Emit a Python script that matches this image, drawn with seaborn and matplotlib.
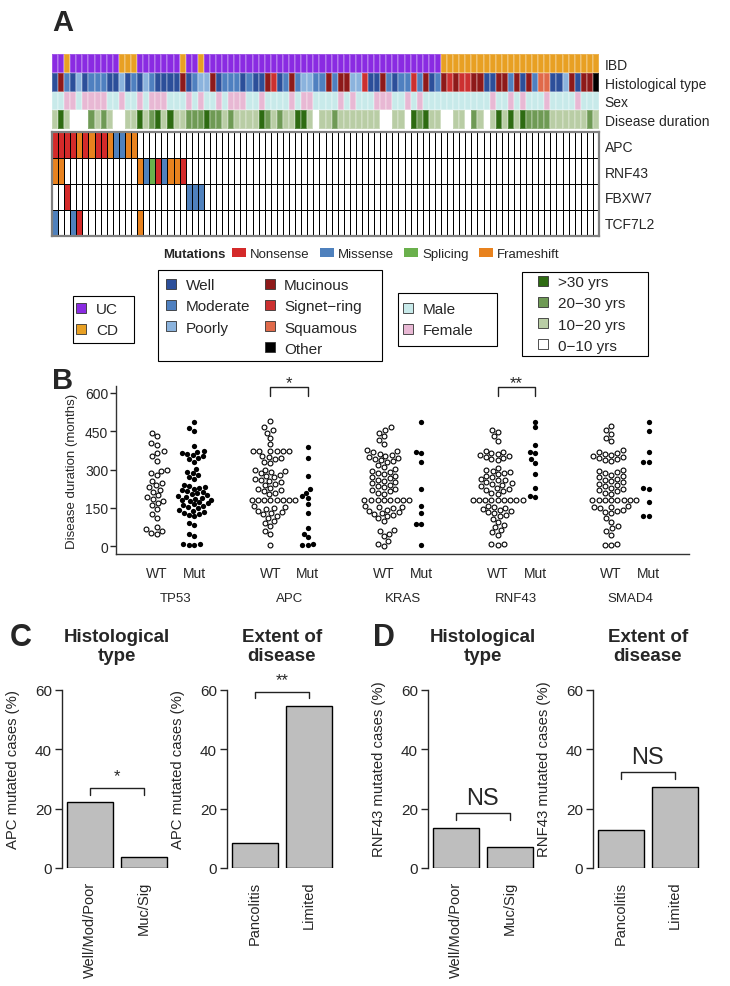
import matplotlib
matplotlib.use("Agg")
import matplotlib.pyplot as plt
from matplotlib.colors import ListedColormap
from matplotlib.lines import Line2D
from matplotlib.patches import Patch, Rectangle
import pandas as pd
import seaborn as sns

# ---------------- panel A data (one character per patient, 90 patients) ----------------
ibd = "UUCUUUUUUU UCCCUUUUUU UCUUCUUUUU UUUUUUUUUU UUUUUUUUUU UUUUUUUUUU UUUUCCCCCC CCCCCCCCCC CCCCCCCCCC"
histology = "WUMWPWMMMW WPWMWPMWWW WUWMPPUWMM MWMWWUSWMU MPPMMUMUUP PSWWUMWMMS MUWMUSUSSU UWWUUMUWUM QQWWPUWUUO"
sex = "MMFFMFFFFM MFMMFMFFFM MMFMFMMFMF FFMMFMMMMF MFFMMMMFMF MMMFFFMMFM FMMMMMMMMM MMFMMFMFMM MFMMMMFMMM"
duration = "LDLNNNGLGL NNLLDLGDLD LLGGGDGGLG LLLLDGLGLL DDLNLLGLLL LLLLNNLLND GDLLNNLLNG LNLDLDLDGG GGLLLLLLGL"
track_names = ["IBD", "Histological type", "Sex", "Disease duration"]

ibd_codes, ibd_labels = "UC", ["UC", "CD"]
ibd_colors = ["#8a2be2", "#e8a023"]
hist_codes = "WMPUSQO"
hist_labels = ["Well", "Moderate", "Poorly", "Mucinous", "Signet\u2212ring", "Squamous", "Other"]
hist_colors = ["#2c4f9a", "#4f80c0", "#8bb3dd", "#8e1a1a", "#cc3030", "#e06a4a", "#000000"]
sex_codes, sex_labels = "MF", ["Male", "Female"]
sex_colors = ["#c8eaea", "#e8b8d4"]
dur_codes = "DGLN"
dur_labels = [">30 yrs", "20\u221230 yrs", "10\u221220 yrs", "0\u221210 yrs"]
dur_colors = ["#2e6b12", "#6f9a55", "#b9cda5", "#ffffff"]

mut_genes = ["APC", "RNF43", "FBXW7", "TCF7L2"]
mut_apc = "NNNNFNFNNF MMFF...... .......... .......... .......... .......... .......... .......... .........."
mut_rnf43 = "FF........ ....FMSNMF FN........ .......... .......... .......... .......... .......... .........."
mut_fbxw7 = "..N....... .......... ..MMM..... .......... .......... .......... .......... .......... .........."
mut_tcf7l2 = "M..MN..... ....F..... .......... .......... .......... .......... .......... .......... .........."
mut_codes = ".NMSF"
mut_labels = ["Nonsense", "Missense", "Splicing", "Frameshift"]
mut_colors = ["#ffffff", "#d42a2a", "#4f81bd", "#6ab04c", "#e8821e"]

# ---------------- panel B data (disease duration, months) ----------------
genes_b = ["TP53", "APC", "KRAS", "RNF43", "SMAD4"]
tp53_wt = [445, 432, 405, 398, 372, 366, 352, 335, 300, 295, 288, 278, 256, 246, 240, 232, 222,
           212, 200, 193, 186, 178, 170, 160, 145, 125, 110, 75, 68, 60, 52, 48]
tp53_mut = [485, 462, 452, 392, 372, 368, 364, 360, 356, 352, 346, 340, 330, 302, 292, 286, 278,
            270, 262, 240, 236, 232, 228, 224, 220, 216, 212, 208, 204, 200, 196, 192, 189, 186,
            183, 180, 176, 172, 168, 164, 160, 156, 152, 148, 144, 140, 136, 132, 128, 124, 120,
            90, 85, 50, 40, 10, 8, 5, 4]
apc_wt = [490, 465, 455, 445, 425, 400, 372, 372, 372, 372, 372, 372, 352, 348, 344, 340, 330,
          325, 300, 298, 295, 290, 285, 280, 275, 270, 265, 260, 255, 250, 245, 240, 230, 225,
          220, 215, 210, 204, 181, 181, 181, 181, 181, 181, 181, 181, 158, 155, 150, 145, 140,
          135, 130, 125, 120, 110, 100, 90, 80, 60, 50, 5]
apc_mut = [390, 345, 275, 225, 210, 195, 190, 165, 130, 70, 50, 35, 10, 5, 5]
kras_wt = [465, 455, 445, 430, 415, 400, 375, 371, 367, 363, 359, 355, 351, 347, 343, 339, 335,
           331, 318, 310, 302, 296, 291, 286, 281, 276, 271, 266, 261, 256, 251, 246, 241, 236,
           231, 226, 221, 216, 210, 206, 181, 181, 181, 181, 181, 181, 181, 181, 158, 155, 152,
           148, 144, 140, 136, 132, 128, 124, 120, 110, 100, 65, 58, 50, 40, 22, 8, 3]
kras_mut = [488, 368, 366, 331, 224, 156, 129, 88, 86, 5]
rnf43_wt = [455, 448, 430, 410, 372, 368, 364, 360, 356, 352, 348, 344, 340, 336, 306, 300, 296,
            292, 288, 282, 276, 270, 264, 261, 258, 252, 246, 243, 240, 234, 228, 225, 222, 216,
            210, 205, 181, 181, 181, 181, 181, 181, 181, 181, 181, 158, 155, 150, 146, 142, 138,
            134, 130, 124, 118, 105, 95, 85, 75, 65, 55, 45, 10, 8, 5]
rnf43_mut = [488, 465, 395, 368, 366, 340, 325, 283, 228, 195, 192]
smad4_wt = [470, 455, 440, 425, 410, 375, 370, 366, 362, 358, 354, 350, 346, 342, 338, 334, 300,
            295, 290, 285, 280, 275, 270, 265, 260, 255, 250, 245, 240, 235, 230, 225, 220, 215,
            210, 205, 181, 181, 181, 181, 181, 181, 181, 181, 158, 155, 152, 148, 144, 140, 136,
            130, 110, 95, 80, 70, 60, 45, 10, 7, 4]
smad4_mut = [488, 450, 370, 330, 328, 228, 225, 172, 120, 118]

# ---------------- panels C / D data (% mutated cases) ----------------
hist_groups = ["Well/Mod/Poor", "Muc/Sig"]
extent_groups = ["Pancolitis", "Limited"]
apc_by_hist = [22.1, 3.6]
apc_by_extent = [8.4, 54.5]
rnf43_by_hist = [13.5, 7.1]
rnf43_by_extent = [12.7, 27.2]

sns.set_style("white")
plt.rcParams["font.family"] = ["Liberation Sans", "DejaVu Sans"]
plt.rcParams["axes.linewidth"] = 1.0

W, H = 730, 987
fig = plt.figure(figsize=(W / 100, H / 100), dpi=100)


def px_axes(x0, y0, x1, y1):
    # axes from a pixel box (top-left origin)
    return fig.add_axes([x0 / W, 1 - y1 / H, (x1 - x0) / W, (y1 - y0) / H])


def chars(s):
    return list(s.replace(" ", ""))


# ---------------- panel A: annotation tracks ----------------
track_sets = [(ibd, ibd_codes, ibd_colors), (histology, hist_codes, hist_colors),
              (sex, sex_codes, sex_colors), (duration, dur_codes, dur_colors)]
all_colors, rows, offset = [], [], 0
for s, codes, cols in track_sets:
    rows.append([offset + codes.index(c) for c in chars(s)])
    all_colors += cols
    offset += len(codes)
track_df = pd.DataFrame(rows, index=track_names)

ax_tr = px_axes(52, 55, 599, 130)
sns.heatmap(track_df, ax=ax_tr, cmap=ListedColormap(all_colors), vmin=-0.5,
            vmax=len(all_colors) - 0.5, cbar=False, linewidths=0.3,
            linecolor=(1, 1, 1, 0.2), xticklabels=False, yticklabels=True)
ax_tr.yaxis.tick_right()
ax_tr.tick_params(axis="y", length=0, pad=4, labelsize=10)
plt.setp(ax_tr.get_yticklabels(), rotation=0)
ax_tr.set_xlabel("")
ax_tr.set_ylabel("")

mut_df = pd.DataFrame([[mut_codes.index(c) for c in chars(s)]
                       for s in [mut_apc, mut_rnf43, mut_fbxw7, mut_tcf7l2]], index=mut_genes)
ax_mu = px_axes(52, 133, 599, 237)
sns.heatmap(mut_df, ax=ax_mu, cmap=ListedColormap(mut_colors), vmin=-0.5, vmax=4.5,
            cbar=False, linewidths=0.65, linecolor="black", xticklabels=False, yticklabels=True)
ax_mu.yaxis.tick_right()
ax_mu.tick_params(axis="y", length=0, pad=4, labelsize=10)
plt.setp(ax_mu.get_yticklabels(), rotation=0)
for sp in ax_mu.spines.values():
    sp.set_visible(True)
    sp.set_color("#808080")
    sp.set_linewidth(1.6)

fig.text(52 / W, 1 - 23 / H, "A", fontsize=21, fontweight="bold", va="center", ha="left")

# mutation legend row
fig.text(226 / W, 1 - 255 / H, "Mutations", fontsize=9.5, fontweight="bold", ha="right", va="center")
fig.legend([Patch(facecolor=c, edgecolor="none") for c in mut_colors[1:]], mut_labels,
           loc="center left", bbox_to_anchor=(232 / W, 1 - 255 / H), ncol=4,
           frameon=False, fontsize=9.5, handlelength=1.05, handleheight=0.75,
           handletextpad=0.3, columnspacing=0.8, borderpad=0, borderaxespad=0)


def box_legend(labels, colors, box, marker_left, y_mid, ncol=1, blank_at=None):
    x0, y0, x1, y1 = box
    fig.add_artist(Rectangle((x0 / W, 1 - y1 / H), (x1 - x0) / W, (y1 - y0) / H,
                             transform=fig.transFigure, fill=False, edgecolor="black", lw=0.8))
    handles = [Line2D([], [], ls="", marker="s", markersize=6.5, markerfacecolor=c,
                      markeredgecolor="#333333", markeredgewidth=0.6) for c in colors]
    labels = list(labels)
    if blank_at is not None:
        handles.insert(blank_at, Line2D([], [], ls="", marker=None))
        labels.insert(blank_at, "")
    fig.legend(handles, labels, loc="center left",
               bbox_to_anchor=((marker_left - 1.1) / W, 1 - y_mid / H),
               ncol=ncol, frameon=False, fontsize=11, handlelength=0.6, handletextpad=0.65,
               borderpad=0, labelspacing=0.46, columnspacing=0.95, borderaxespad=0)


box_legend(ibd_labels, ibd_colors, (73, 297, 134, 344), 78, 320.5)
box_legend(hist_labels, hist_colors, (158, 271, 382, 362), 168, 318, ncol=2, blank_at=3)
box_legend(sex_labels, sex_colors, (398, 294, 497, 347), 405, 320.5)
box_legend(dur_labels, dur_colors, (522, 273, 648, 357), 540, 315)

# ---------------- panel B: beeswarm ----------------
ax_b = px_axes(116, 387, 689, 555)
groups_b = [(tp53_wt, tp53_mut), (apc_wt, apc_mut), (kras_wt, kras_mut),
            (rnf43_wt, rnf43_mut), (smad4_wt, smad4_mut)]
gene_step, mut_shift = 1.515, 0.5
tick_pos, tick_lab = [], []
for i, (wt, mut) in enumerate(groups_b):
    xw, xm = i * gene_step, i * gene_step + mut_shift
    d_wt = pd.DataFrame({"pos": [xw] * len(wt), "months": wt})
    d_mut = pd.DataFrame({"pos": [xm] * len(mut), "months": mut})
    sns.swarmplot(data=d_wt, x="pos", y="months", native_scale=True, orient="x", ax=ax_b,
                  color="white", edgecolor="black", linewidth=0.8, size=3.5)
    sns.swarmplot(data=d_mut, x="pos", y="months", native_scale=True, orient="x", ax=ax_b,
                  color="black", edgecolor="black", linewidth=0, size=3.8)
    tick_pos += [xw, xm]
    tick_lab += ["WT", "Mut"]
    ax_b.text(xw + mut_shift / 2, -0.26, genes_b[i], transform=ax_b.get_xaxis_transform(),
              ha="center", va="center", fontsize=9.5)

ax_b.set_xlim(-0.543, 7.097)
ax_b.set_ylim(-30, 627)
ax_b.set_yticks([0, 150, 300, 450, 600])
ax_b.set_xticks(tick_pos)
ax_b.set_xticklabels(tick_lab)
ax_b.tick_params(axis="x", length=0, pad=9, labelsize=10)
ax_b.tick_params(axis="y", length=4, width=1, pad=1.5, labelsize=10, left=True, direction="out")
ax_b.set_xlabel("")
ax_b.set_ylabel("Disease duration (months)", fontsize=9.5)
ax_b.yaxis.set_label_coords(-0.066, 0.5)
sns.despine(ax=ax_b)
for sp in ("left", "bottom"):
    ax_b.spines[sp].set_color("#333333")


def bracket(ax, x0, x1, y_top, y_leg, label, y_lab, fs):
    ax.plot([x0, x0, x1, x1], [y_leg, y_top, y_top, y_leg], color="#222222", lw=1, clip_on=False)
    ax.text((x0 + x1) / 2, y_lab, label, ha="center", va="center", fontsize=fs, clip_on=False)


bracket(ax_b, 1 * gene_step, 1 * gene_step + mut_shift, 623, 588, "*", 642, 12)
bracket(ax_b, 3 * gene_step, 3 * gene_step + mut_shift, 623, 588, "**", 642, 12)
fig.text(52 / W, 1 - 381 / H, "B", fontsize=21, fontweight="bold", va="center", ha="left")

# ---------------- panels C / D: bar charts ----------------
bar_specs = [
    (61.7, hist_groups, apc_by_hist, "APC mutated cases (%)", "Histological\ntype", (26.9, 24.6, "*", 31.0, 12)),
    (226.7, extent_groups, apc_by_extent, "APC mutated cases (%)", "Extent of\ndisease", (59.3, 57.2, "**", 63.5, 12)),
    (427.7, hist_groups, rnf43_by_hist, "RNF43 mutated cases (%)", "Histological\ntype", (18.5, 16.3, "NS", 23.4, 17)),
    (592.7, extent_groups, rnf43_by_extent, "RNF43 mutated cases (%)", "Extent of\ndisease", (32.3, 30.0, "NS", 37.2, 17)),
]
for x0, cats, vals, ylab, title, (yt, yl, lab, ylb, fs) in bar_specs:
    ax = px_axes(x0, 690.7, x0 + 110.2, 869)
    sns.barplot(x=cats, y=vals, ax=ax, color="#bebebe", saturation=1, edgecolor="black",
                linewidth=1, width=0.845)
    ax.set_xlim(-0.515, 1.515)
    ax.set_ylim(0, 60)
    ax.set_yticks([0, 20, 40, 60])
    ax.tick_params(axis="y", length=5, width=1, pad=2, labelsize=11, left=True, direction="out")
    ax.tick_params(axis="x", length=0, pad=9, labelsize=10.5)
    plt.setp(ax.get_xticklabels(), rotation=90, va="top", ha="center")
    sns.despine(ax=ax, bottom=True)
    ax.set_ylabel(ylab, fontsize=10.7)
    ax.yaxis.set_label_coords(-0.38, 0.56)
    ax.text(0.5, 1.245, title, transform=ax.transAxes, ha="center", va="center",
            fontsize=13.5, fontweight="bold", linespacing=1.15)
    bracket(ax, 0, 1, yt, yl, lab, ylb, fs)

fig.text(10 / W, 1 - 638 / H, "C", fontsize=22, fontweight="bold", va="center", ha="left")
fig.text(373 / W, 1 - 638 / H, "D", fontsize=22, fontweight="bold", va="center", ha="left")

fig.savefig("out.png", dpi=100)
